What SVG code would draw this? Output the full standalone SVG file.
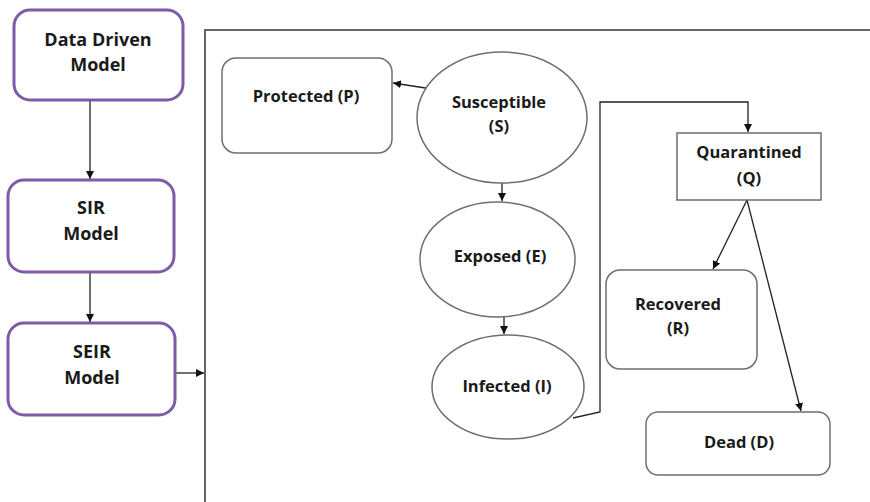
<svg xmlns="http://www.w3.org/2000/svg" width="870" height="502" viewBox="0 0 870 502">
<defs>
<style>
.pm{fill:#fff;stroke:#7d5ba6;stroke-width:3}
.nd{fill:#fff;stroke:#6e6e6e;stroke-width:1.5}
.ln{fill:none;stroke:#222;stroke-width:1.3}
.fr{fill:none;stroke:#666;stroke-width:2}
.tl{font-family:"Open Sans","Liberation Sans",sans-serif;font-weight:bold;font-size:18px;fill:#1a1a1a;text-anchor:middle}
.tr{font-family:"Open Sans","Liberation Sans",sans-serif;font-weight:bold;font-size:16.5px;fill:#1a1a1a;text-anchor:middle}
</style>
<marker id="ah" viewBox="0 0 10 10" refX="10" refY="5" markerWidth="8" markerHeight="8" markerUnits="userSpaceOnUse" orient="auto">
<path d="M0,0 L10,5 L0,10 z" fill="#111"/>
</marker>
</defs>
<rect width="870" height="502" fill="#fff"/>
<path class="fr" d="M205,502 L205,30 L870,30"/>
<g id="connectors">
<line class="ln" x1="90" y1="101" x2="90" y2="179" marker-end="url(#ah)"/>
<line class="ln" x1="90" y1="273" x2="90" y2="322" marker-end="url(#ah)"/>
<line class="ln" x1="176" y1="373" x2="204" y2="373" marker-end="url(#ah)"/>
<line class="ln" x1="432" y1="89" x2="393" y2="83" marker-end="url(#ah)"/>
<line class="ln" x1="502" y1="183" x2="502" y2="201" marker-end="url(#ah)"/>
<line class="ln" x1="504" y1="317" x2="504" y2="334" marker-end="url(#ah)"/>
<path class="ln" d="M573,418 L600,412 L600,102 L748,102 L748,132" marker-end="url(#ah)"/>
<line class="ln" x1="747" y1="200" x2="713" y2="269" marker-end="url(#ah)"/>
<line class="ln" x1="747" y1="200" x2="801" y2="411" marker-end="url(#ah)"/>
</g>
<g id="data-driven"><rect class="pm" x="14" y="10" width="169" height="90" rx="16"/><text class="tl" x="98" y="46">Data Driven</text><text class="tl" x="98" y="71">Model</text></g>
<g id="sir"><rect class="pm" x="8" y="180" width="166" height="92" rx="16"/><text class="tl" x="91" y="214">SIR</text><text class="tl" x="91" y="240">Model</text></g>
<g id="seir"><rect class="pm" x="8" y="323" width="167" height="92" rx="16"/><text class="tl" x="92" y="358">SEIR</text><text class="tl" x="92" y="384">Model</text></g>
<g id="protected"><rect class="nd" x="222" y="58" width="170" height="95" rx="14"/><text class="tr" x="306" y="102">Protected (P)</text></g>
<g id="susceptible"><ellipse class="nd" cx="502" cy="117.5" rx="85" ry="65.5"/><text class="tr" x="499" y="108">Susceptible</text><text class="tr" x="499" y="132">(S)</text></g>
<g id="exposed"><ellipse class="nd" cx="497.5" cy="259.5" rx="77.5" ry="57.5"/><text class="tr" x="500" y="262">Exposed (E)</text></g>
<g id="infected"><ellipse class="nd" cx="508" cy="387" rx="76" ry="52"/><text class="tr" x="507" y="392">Infected (I)</text></g>
<g id="quarantined"><rect class="nd" x="677" y="133" width="144" height="67"/><text class="tr" x="749" y="158">Quarantined</text><text class="tr" x="749" y="184">(Q)</text></g>
<g id="recovered"><rect class="nd" x="606" y="270" width="151" height="99" rx="14"/><text class="tr" x="678" y="310">Recovered</text><text class="tr" x="678" y="334">(R)</text></g>
<g id="dead"><rect class="nd" x="646" y="412" width="184" height="63" rx="12"/><text class="tr" x="739" y="448">Dead (D)</text></g>
</svg>
